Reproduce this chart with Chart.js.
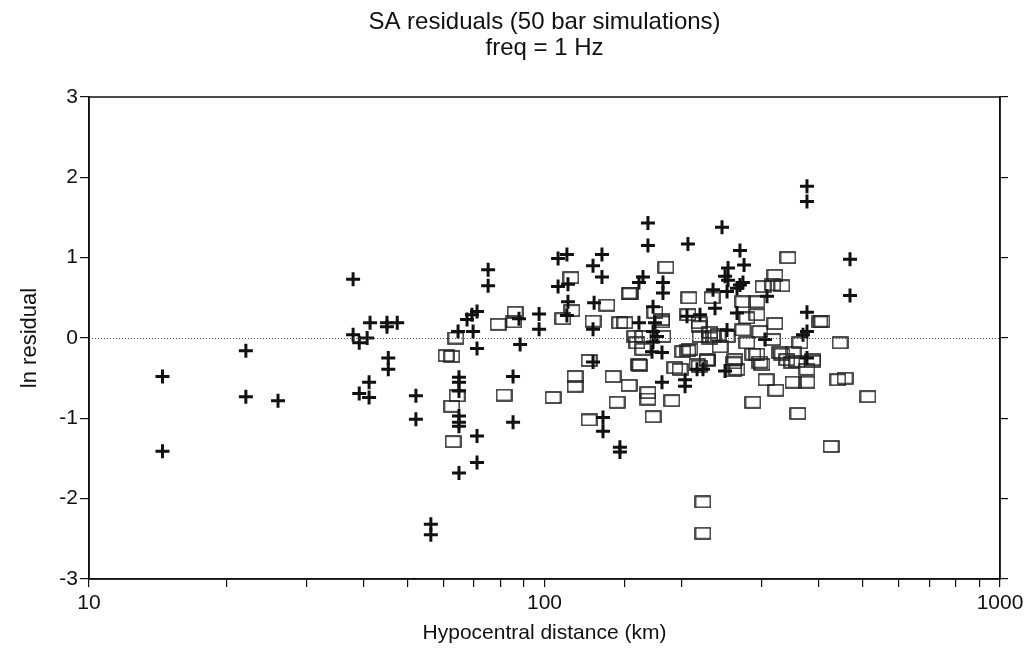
<!DOCTYPE html>
<html lang="en">
<head>
  <meta charset="UTF-8" />
  <title>SA residuals | 1 Hz</title>
  <!-- Chart.js -->
  <script src="https://cdn.jsdelivr.net/npm/chart.js"></script>
  <style>
    html, body { margin: 0; padding: 0; background: #fff; }
    #wrap { width: 1032px; height: 654px; position: relative; }
  </style>
</head>
<body>
  <div id="wrap"><canvas id="residualChart"></canvas></div>

  <script>
    // Chart text
    const titleLines = ["SA residuals (50 bar simulations)", "freq = 1 Hz"];
    const xTitle = "Hypocentral distance (km)";
    const yTitle = "ln residual";
    const xLabelled = [10, 100, 1000];
    const yTicks = [-3, -2, -1, 0, 1, 2, 3];

    // "+" series: distance (km) and ln residual
    const plusDist = [
      14.5, 14.5, 22.1, 22.1, 26.0, 38.0, 38.0, 39.2, 40.8, 41.4,
      41.2, 39.2, 41.2, 45.1, 47.5, 45.1, 45.4, 45.4, 52.2, 52.2,
      56.3, 56.3, 64.9, 64.9, 64.9, 64.9, 64.9, 64.9, 64.9, 71.1,
      71.1, 71.1, 64.6, 69.7, 67.6, 69.3, 71.1, 75.2, 75.2, 85.3,
      85.3, 88.4, 87.9, 97.3, 97.3, 107.1, 112.0, 107.1, 112.6, 112.6,
      112.0, 127.8, 133.7, 133.7, 128.5, 127.8, 127.8, 134.4, 134.4, 146.4,
      146.4, 168.7, 168.7, 206.5, 245.3, 268.6, 274.2, 252.9, 249.1, 272.7,
      268.6, 164.5, 161.2, 182.0, 182.0, 234.4, 251.6, 376.9, 376.9, 468.5,
      468.5, 376.9, 376.9, 369.4, 307.9, 173.1, 174.8, 173.1, 176.6, 173.1,
      172.2, 181.1, 161.2, 205.5, 219.5, 236.8, 251.6, 264.6, 304.8, 222.8,
      249.1, 203.5, 376.9, 181.1, 203.5, 216.2, 264.6, 252.9
    ];
    const plusRes = [
      -0.48, -1.41, -0.16, -0.73, -0.78, 0.73, 0.04, -0.06, 0.00, 0.19,
      -0.55, -0.69, -0.74, 0.19, 0.19, 0.14, -0.25, -0.39, -0.72, -1.01,
      -2.32, -2.45, -0.49, -0.55, -0.66, -0.97, -1.05, -1.10, -1.68, -1.22,
      -1.55, -0.13, 0.08, 0.08, 0.23, 0.29, 0.33, 0.85, 0.65, -0.48,
      -1.05, -0.08, 0.24, 0.30, 0.11, 0.99, 1.04, 0.64, 0.67, 0.45,
      0.28, 0.90, 1.04, 0.76, 0.44, 0.11, -0.30, -0.99, -1.16, -1.36,
      -1.42, 1.43, 1.15, 1.17, 1.38, 1.09, 0.91, 0.87, 0.77, 0.69,
      0.66, 0.76, 0.69, 0.69, 0.56, 0.60, 0.58, 1.89, 1.70, 0.98,
      0.53, 0.32, 0.08, 0.04, 0.52, 0.39, 0.19, 0.08, 0.02, -0.05,
      -0.17, -0.18, 0.19, 0.27, 0.29, 0.37, 0.10, 0.31, -0.02, -0.39,
      -0.41, -0.52, -0.25, -0.55, -0.60, -0.39, 0.62, 0.72
    ];

    // open-box series: distance (km) and ln residual
    const boxDist = [
      63.9, 60.8, 62.6, 79.1, 86.2, 85.7, 109.8, 114.3, 114.9, 127.8,
      137.1, 146.4, 125.3, 116.7, 64.3, 62.6, 63.0, 81.5, 104.4, 116.7,
      125.3, 141.4, 144.3, 445.4, 440.9, 456.8, 425.6, 360.1, 153.3, 168.7,
      168.7, 190.5, 173.1, 162.0, 206.5, 198.4, 216.2, 227.4, 260.6, 260.6,
      286.9, 306.4, 322.2, 292.7, 300.2, 332.1, 351.2, 351.2, 376.9, 388.5,
      222.8, 222.8, 278.3, 159.6, 164.5, 182.0, 219.5, 234.4, 251.6, 317.3,
      358.3, 340.6, 376.9, 218.4, 184.8, 153.3, 207.6, 342.4, 320.6, 317.3,
      332.1, 301.8, 406.6, 320.6, 150.2, 158.0, 181.1, 206.5, 218.4, 233.2,
      272.7, 292.7, 278.3, 292.7, 240.4, 230.8, 272.7, 297.2, 363.8, 328.8,
      242.9, 208.6, 164.5, 193.4, 201.4, 227.4, 286.9, 297.2, 349.4, 388.5,
      261.9, 264.6, 161.2, 513.0, 174.8, 181.1, 218.4, 230.8, 402.5, 154.1
    ];
    const boxRes = [
      0.00, -0.22, -0.23, 0.17, 0.32, 0.20, 0.24, 0.75, 0.34, 0.21,
      0.41, 0.19, -0.28, -0.48, -0.72, -0.85, -1.29, -0.71, -0.74, -0.60,
      -1.02, -0.48, -0.80, -0.06, -0.52, -0.50, -1.35, -0.94, -0.59, -0.68,
      -0.76, -0.78, -0.98, -0.34, -0.16, -0.39, -0.33, -0.28, -0.31, -0.41,
      -0.80, -0.52, -0.65, -0.20, -0.33, -0.20, -0.55, -0.18, -0.55, -0.27,
      -2.04, -2.43, -0.06, -0.06, 0.02, 0.02, 0.02, 0.02, 0.02, -0.02,
      -0.29, -0.27, -0.39, -0.35, 0.88, 0.55, 0.50, 1.00, 0.78, 0.66,
      0.65, 0.64, 0.21, 0.18, 0.19, 0.02, 0.20, 0.29, 0.19, 0.50,
      0.45, 0.45, 0.25, 0.29, 0.04, 0.00, 0.10, 0.08, -0.06, -0.18,
      -0.11, -0.14, -0.14, -0.37, -0.17, -0.27, -0.20, -0.30, -0.30, -0.29,
      -0.27, -0.39, -0.33, -0.73, 0.32, 0.23, 0.14, 0.07, 0.20, 0.56
    ];

    const FONT = '"Liberation Sans", Arial, Helvetica, sans-serif';
    const INK = '#111';

    function pairs(xs, ys) {
      return xs.map((x, i) => ({ x: x, y: ys[i] }));
    }

    // open rectangle marker (wider than tall, like the scanned plot)
    function boxMarker() {
      const c = document.createElement('canvas');
      c.width = 17; c.height = 13;
      const g = c.getContext('2d');
      g.strokeStyle = '#222';
      g.lineWidth = 1.6;
      g.strokeRect(1, 1, 15, 11);
      return c;
    }

    // frame, zero line and two-line title centred over the plot
    const decorations = {
      id: 'decorations',
      afterDatasetsDraw(chart) {
        const { ctx, chartArea: a, scales } = chart;
        const y0 = scales.y.getPixelForValue(0);
        ctx.save();
        ctx.strokeStyle = '#555';
        ctx.lineWidth = 1;
        ctx.setLineDash([1, 2]);
        ctx.beginPath();
        ctx.moveTo(a.left, y0 + 0.5);
        ctx.lineTo(a.right, y0 + 0.5);
        ctx.stroke();
        ctx.setLineDash([]);
        ctx.strokeStyle = INK;
        ctx.lineWidth = 1.5;
        ctx.strokeRect(a.left, a.top, a.right - a.left, a.bottom - a.top);
        ctx.fillStyle = INK;
        ctx.font = '24px ' + FONT;
        ctx.textAlign = 'center';
        ctx.textBaseline = 'middle';
        const cx = (a.left + a.right) / 2;
        ctx.fillText(titleLines[0], cx, 22);
        ctx.fillText(titleLines[1], cx, 48);
        ctx.restore();
      }
    };

    new Chart(document.getElementById('residualChart'), {
      type: 'scatter',
      data: {
        datasets: [
          {
            label: 'plus',
            data: pairs(plusDist, plusRes),
            pointStyle: 'cross',
            radius: 7,
            borderWidth: 3,
            borderColor: INK,
            backgroundColor: INK
          },
          {
            label: 'box',
            data: pairs(boxDist, boxRes),
            pointStyle: boxMarker(),
            radius: 7
          }
        ]
      },
      options: {
        responsive: true,
        maintainAspectRatio: false,
        animation: false,
        layout: { padding: { top: 97, left: 0, right: 0, bottom: 0 } },
        plugins: {
          legend: { display: false },
          tooltip: { enabled: false }
        },
        scales: {
          x: {
            type: 'logarithmic',
            position: 'bottom',
            min: 10,
            max: 1000,
            afterFit: (s) => { s.height = 75; },
            border: { display: true, color: INK, width: 1.5 },
            grid: { drawOnChartArea: false, drawTicks: true, tickLength: 8, tickColor: INK, lineWidth: 1.2 },
            ticks: {
              autoSkip: false,
              maxRotation: 0,
              padding: 4,
              color: INK,
              font: { family: FONT, size: 21 },
              callback: (v) => xLabelled.includes(v) ? String(v) : ''
            },
            title: {
              display: true,
              text: xTitle,
              color: INK,
              font: { family: FONT, size: 21 },
              padding: { top: 0, bottom: 8 }
            }
          },
          y: {
            position: 'left',
            min: yTicks[0],
            max: yTicks[yTicks.length - 1],
            afterFit: (s) => { s.width = 89; },
            border: { display: true, color: INK, width: 1.5 },
            grid: { drawOnChartArea: false, drawTicks: true, tickLength: 9, tickColor: INK, lineWidth: 1.2 },
            ticks: {
              stepSize: 1,
              padding: 2,
              color: INK,
              font: { family: FONT, size: 21 }
            },
            title: {
              display: true,
              text: yTitle,
              color: INK,
              font: { family: FONT, size: 22 },
              padding: { top: 17, bottom: 0 }
            }
          },
          y2: {
            position: 'right',
            min: yTicks[0],
            max: yTicks[yTicks.length - 1],
            afterFit: (s) => { s.width = 32; },
            border: { display: true, color: INK, width: 1.5 },
            grid: { drawOnChartArea: false, drawTicks: true, tickLength: 8, tickColor: INK, lineWidth: 1.2 },
            ticks: { stepSize: 1, display: false }
          }
        }
      },
      plugins: [decorations]
    });
  </script>
</body>
</html>
